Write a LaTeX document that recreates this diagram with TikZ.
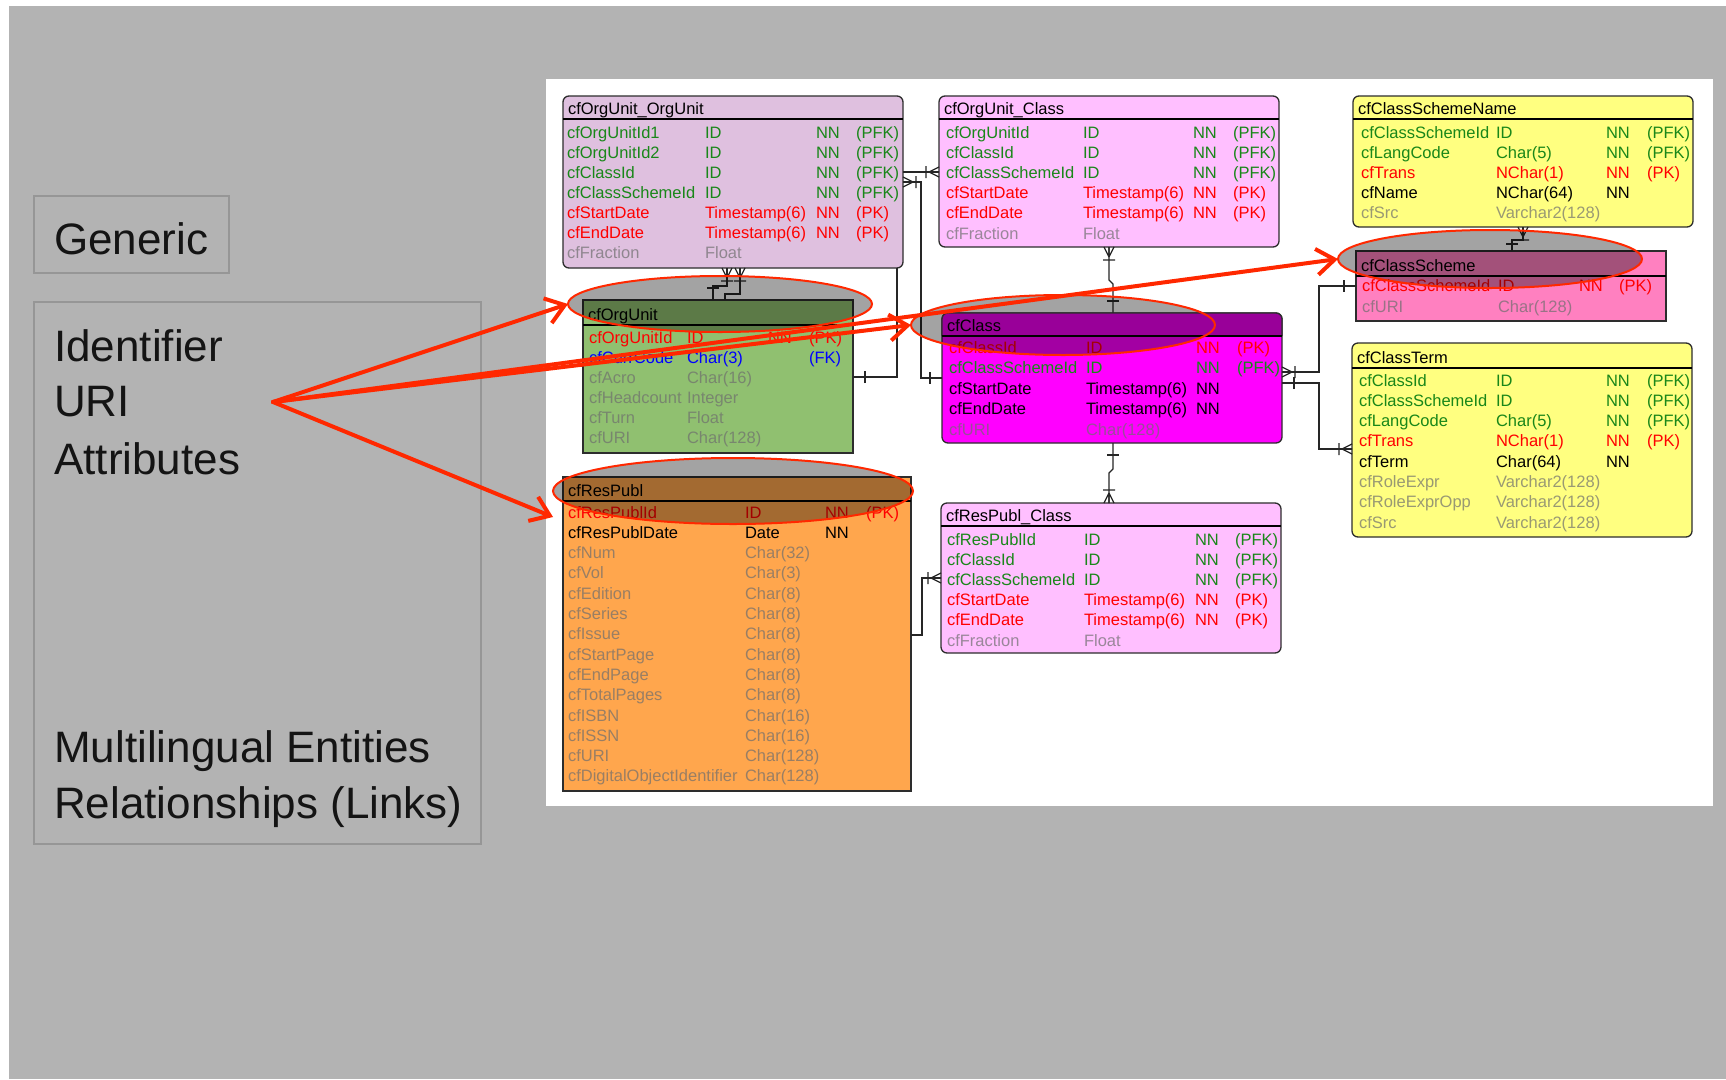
\documentclass[tikz,border=0pt]{standalone}
\usepackage{fontspec}
\setmainfont{Liberation Sans}
\usetikzlibrary{arrows.meta,shapes.geometric}

\definecolor{bgc}{RGB}{179,179,179}
\definecolor{lboxc}{RGB}{150,150,150}
\definecolor{edgec}{RGB}{45,45,45}
\definecolor{cOO}{RGB}{223,192,223}
\definecolor{cPK}{RGB}{255,191,255}
\definecolor{cYE}{RGB}{255,255,128}
\definecolor{cCS}{RGB}{255,128,192}
\definecolor{cOU}{RGB}{144,192,112}
\definecolor{cCL}{RGB}{255,0,255}
\definecolor{cCLh}{RGB}{153,0,153}
\definecolor{cRP}{RGB}{255,166,77}
\definecolor{tgrn}{RGB}{25,135,25}
\definecolor{tred}{RGB}{255,0,0}
\definecolor{tgry}{RGB}{110,110,110}
\definecolor{tblu}{RGB}{0,0,255}
\definecolor{ared}{RGB}{255,40,0}

\newcommand\cellfont{\fontsize{16.5}{18}\selectfont}
\newcommand\bigfont{\fontsize{44}{50}\selectfont}

\tikzset{
  cell/.style={anchor=base west, inner sep=0pt, outer sep=0pt, font=\cellfont, text=black},
  kgrn/.style={text=tgrn}, kred/.style={text=tred}, kblu/.style={text=tblu},
  kblk/.style={text=black}, kgry/.style={text=tgry, text opacity=0.7},
  hdrline/.style={draw=black, line width=1.6pt},
  conn/.style={draw=black!85, line width=1.2pt},
  ellfill/.style={ellipse, fill=black, fill opacity=0.36, draw=none, inner sep=0pt, outer sep=0pt},
  eline/.style={draw=ared, line width=2pt},
  rarrow/.style={draw=ared, line width=4pt, line cap=round, -{Straight Barb[length=18pt,width=26pt]}},
  bigtxt/.style={anchor=base west, inner sep=0pt, font=\bigfont, text=black!92},
  lbox/.style={draw=lboxc, line width=1.5pt, anchor=north west, inner sep=0pt, outer sep=0pt},
  tblbox/.style={draw=edgec, line width=1.3pt, inner sep=0pt, outer sep=0pt, anchor=north west},
  tbledge/.style={draw=edgec, line width=1.3pt},
  crow/.pic={\draw[conn] (-10,0) -- (0,-5) (-10,0) -- (0,0) (-10,0) -- (0,5) (-13,-6) -- (-13,6);},
  onebar/.pic={\draw[conn] (-12,-6) -- (-12,6);},
  onebars/.pic={\draw[conn] (-7,-6) -- (-7,6);},
}

\newcommand\ertable[6]{%
  \pgfmathsetmacro\erw{#4-#2}%
  \pgfmathsetmacro\erh{#5-#3}%
  \node[tblbox,#6,minimum width=\erw pt,minimum height=\erh pt] (#1) at (#2,#3) {};}
\newcommand\erhead[5]{%
  \draw[hdrline] (#2,#4) -- (#3,#4);
  \node[cell] (#1-title) at (#2+5,#4-5) {#5};}
\newcommand\errows[8]{%
  \foreach \xc/\xa/\xb/\xn/\xk [count=\xi from 0] in {#8} {%
    \pgfmathsetmacro\yy{#6+\xi*#7}%
    \node[cell,\xc] (#1-\xi-a) at (#2,\yy) {\xa};
    \node[cell,\xc] (#1-\xi-b) at (#3,\yy) {\xb};
    \node[cell,\xc] (#1-\xi-c) at (#4,\yy) {\xn};
    \node[cell,\xc] (#1-\xi-d) at (#5,\yy) {\xk};
  }}

\begin{document}
\begin{tikzpicture}[x=1pt,y=-1pt]
\useasboundingbox (0,0) rectangle (1726,1079);
\fill[white] (0,0) rectangle (1726,1079);
\fill[bgc] (9,6) rectangle (1726,1079);
\fill[white] (546,79) rectangle (1713,806);

% left panel
\node[lbox, minimum width=195pt, minimum height=77pt] (genbox) at (34,196) {};
\node[lbox, minimum width=447pt, minimum height=542pt] (attbox) at (34,302) {};
\node[bigtxt] (tgen) at (54,254) {Generic};
\node[bigtxt] (tid) at (54,361) {Identifier};
\node[bigtxt] (turi) at (54,416) {URI};
\node[bigtxt] (tatt) at (54,474) {Attributes};
\node[bigtxt] (tml) at (54,762) {Multilingual Entities};
\node[bigtxt] (trel) at (54,818) {Relationships (Links)};

% tables
\ertable{oo}{563}{96}{903}{268}{fill=cOO,rounded corners=6pt}
\erhead{oo}{563}{903}{119}{cfOrgUnit\_OrgUnit}
\errows{oo}{567}{705}{816}{856}{138}{20.1}{kgrn/cfOrgUnitId1/ID/NN/(PFK), kgrn/cfOrgUnitId2/ID/NN/(PFK), kgrn/cfClassId/ID/NN/(PFK), kgrn/cfClassSchemeId/ID/NN/(PFK), kred/cfStartDate/Timestamp(6)/NN/(PK), kred/cfEndDate/Timestamp(6)/NN/(PK), kgry/cfFraction/Float/{}/{}}

\ertable{oc}{939}{96}{1279}{247}{fill=cPK,rounded corners=6pt}
\erhead{oc}{939}{1279}{119}{cfOrgUnit\_Class}
\errows{oc}{946}{1083}{1193}{1233}{138}{20.2}{kgrn/cfOrgUnitId/ID/NN/(PFK), kgrn/cfClassId/ID/NN/(PFK), kgrn/cfClassSchemeId/ID/NN/(PFK), kred/cfStartDate/Timestamp(6)/NN/(PK), kred/cfEndDate/Timestamp(6)/NN/(PK), kgry/cfFraction/Float/{}/{}}

\ertable{csn}{1353}{96}{1693}{227}{fill=cYE,rounded corners=6pt}
\erhead{csn}{1353}{1693}{119}{cfClassSchemeName}
\errows{csn}{1361}{1496}{1606}{1647}{138}{20.2}{kgrn/cfClassSchemeId/ID/NN/(PFK), kgrn/cfLangCode/Char(5)/NN/(PFK), kred/cfTrans/NChar(1)/NN/(PK), kblk/cfName/NChar(64)/NN/{}, kgry/cfSrc/Varchar2(128)/{}/{}}

\ertable{cs}{1356}{251}{1666}{321}{fill=cCS}
\erhead{cs}{1356}{1666}{276}{cfClassScheme}
\errows{cs}{1362}{1498}{1579}{1619}{291}{21}{kred/cfClassSchemeId/ID/NN/(PK), kgry/cfURI/Char(128)/{}/{}}

\ertable{ct}{1352}{343}{1692}{537}{fill=cYE,rounded corners=6pt}
\erhead{ct}{1352}{1692}{368}{cfClassTerm}
\errows{ct}{1359}{1496}{1606}{1647}{386}{20.3}{kgrn/cfClassId/ID/NN/(PFK), kgrn/cfClassSchemeId/ID/NN/(PFK), kgrn/cfLangCode/Char(5)/NN/(PFK), kred/cfTrans/NChar(1)/NN/(PK), kblk/cfTerm/Char(64)/NN/{}, kgry/cfRoleExpr/Varchar2(128)/{}/{}, kgry/cfRoleExprOpp/Varchar2(128)/{}/{}, kgry/cfSrc/Varchar2(128)/{}/{}}

\ertable{ou}{583}{300}{853}{453}{fill=cOU}
\erhead{ou}{583}{853}{325}{cfOrgUnit}
\errows{ou}{589}{687}{768}{809}{343}{20}{kred/cfOrgUnitId/ID/NN/(PK), kblu/cfCurrCode/Char(3)/{}/(FK), kgry/cfAcro/Char(16)/{}/{}, kgry/cfHeadcount/Integer/{}/{}, kgry/cfTurn/Float/{}/{}, kgry/cfURI/Char(128)/{}/{}}

\ertable{cl}{942}{313}{1282}{443}{fill=cCL,rounded corners=6pt}
\errows{cl}{949}{1086}{1196}{1237}{353}{20.5}{kred/cfClassId/ID/NN/(PK), kgrn/cfClassSchemeId/ID/NN/(PFK), kblk/cfStartDate/Timestamp(6)/NN/{}, kblk/cfEndDate/Timestamp(6)/NN/{}, kgry/cfURI/Char(128)/{}/{}}

\ertable{rp}{563}{477}{911}{791}{fill=cRP}
\erhead{rp}{563}{911}{501}{cfResPubl}
\errows{rp}{568}{745}{825}{866}{518}{20.3}{kred/cfResPublId/ID/NN/(PK), kblk/cfResPublDate/Date/NN/{}, kgry/cfNum/Char(32)/{}/{}, kgry/cfVol/Char(3)/{}/{}, kgry/cfEdition/Char(8)/{}/{}, kgry/cfSeries/Char(8)/{}/{}, kgry/cfIssue/Char(8)/{}/{}, kgry/cfStartPage/Char(8)/{}/{}, kgry/cfEndPage/Char(8)/{}/{}, kgry/cfTotalPages/Char(8)/{}/{}, kgry/cfISBN/Char(16)/{}/{}, kgry/cfISSN/Char(16)/{}/{}, kgry/cfURI/Char(128)/{}/{}, kgry/cfDigitalObjectIdentifier/Char(128)/{}/{}}

\ertable{rc}{941}{503}{1281}{653}{fill=cPK,rounded corners=6pt}
\erhead{rc}{941}{1281}{526}{cfResPubl\_Class}
\errows{rc}{947}{1084}{1195}{1235}{545}{20.2}{kgrn/cfResPublId/ID/NN/(PFK), kgrn/cfClassId/ID/NN/(PFK), kgrn/cfClassSchemeId/ID/NN/(PFK), kred/cfStartDate/Timestamp(6)/NN/(PK), kred/cfEndDate/Timestamp(6)/NN/(PK), kgry/cfFraction/Float/{}/{}}

% connectors
\draw[conn] (ou.east |- 0,377) -- (897,377) -- (oo.south -| 897,0);
\draw[conn] (oo.east |- 0,172) -- (oc.west |- 0,172);
\draw[conn] (cl.west |- 0,378) -- (921,378) -- (921,182) -- (oo.east |- 0,182);
\draw[conn] (ou.north -| 713,0) -- (713,286) -- (727,286) -- (oo.south -| 727,0);
\draw[conn] (ou.north -| 725,0) -- (725,294) -- (740,294) -- (oo.south -| 740,0);
\draw[conn] (oc.south -| 1109,0) -- (1109,280) -- (1113,284) -- (cl.north -| 1113,0);
\draw[conn] (cl.south -| 1113,0) -- (1113,469) -- (1109,473) -- (rc.north -| 1109,0);
\draw[conn] (rp.east |- 0,635) -- (922,635) -- (922,578) -- (rc.west |- 0,578);
\draw[conn] (cl.east |- 0,372) -- (1319,372) -- (1319,286) -- (cs.west |- 0,286);
\draw[conn] (cl.east |- 0,383) -- (1319,383) -- (1319,449) -- (ct.west |- 0,449);
\draw[conn] (cs.north -| 1512,0) -- (1512,240) -- (1523,240) -- (csn.south -| 1523,0);

\path (oc.west |- 0,172) pic{crow};
\path (ou.east |- 0,377) pic[rotate=180]{onebar};
\path (oo.east |- 0,182) pic[rotate=180]{crow};
\path (cl.west |- 0,378) pic{onebar};
\path (oo.south -| 727,0) pic[rotate=90]{crow};
\path (oo.south -| 740,0) pic[rotate=90]{crow};
\path (ou.north -| 713,0) pic[rotate=-90]{onebar};
\path (oc.south -| 1109,0) pic[rotate=90]{crow};
\path (cl.north -| 1113,0) pic[rotate=-90]{onebar};
\path (cl.south -| 1113,0) pic[rotate=90]{onebar};
\path (rc.north -| 1109,0) pic[rotate=-90]{crow};
\path (rc.west |- 0,578) pic{crow};
\path (cl.east |- 0,372) pic[rotate=180]{crow};
\path (cs.west |- 0,286) pic{onebar};
\path (cl.east |- 0,383) pic[rotate=180]{onebar};
\path (ct.west |- 0,449) pic{crow};
\path (csn.south -| 1523,0) pic[rotate=90]{crow};
\path (cs.north -| 1512,0) pic[rotate=-90]{onebars};

% highlight ellipses (fill)
\node[ellfill, minimum width=304pt, minimum height=56pt] (e1) at (720,304) {};
\node[ellfill, minimum width=304pt, minimum height=60pt] (e2) at (1063,325) {};
\node[ellfill, minimum width=304pt, minimum height=58pt] (e3) at (1490,259) {};
\node[ellfill, minimum width=360pt, minimum height=66pt] (e4) at (733,491) {};

% cfClass header (dark band)
\begin{scope}
\clip[rounded corners=6pt] (942,313) rectangle (1282,443);
\fill[cCLh] (942,313) rectangle (1282,336);
\end{scope}
\draw[tbledge, rounded corners=6pt] (942,336) -- (942,313) -- (1282,313) -- (1282,336);
\erhead{cl}{942}{1282}{336}{cfClass}

% ellipse outlines
\draw[eline] (e1.center) ellipse [x radius=152, y radius=28];
\draw[eline] (e2.center) ellipse [x radius=152, y radius=30];
\draw[eline] (e3.center) ellipse [x radius=152, y radius=29];
\draw[eline] (e4.center) ellipse [x radius=180, y radius=33];

% arrows
\coordinate (o) at (273,402);
\coordinate (t4) at (553,517);
\draw[rarrow] (o) -- (e1.west);
\draw[rarrow] (o) -- (e2.west);
\draw[rarrow] (o) -- (e3.west);
\draw[rarrow] (o) -- (t4);
\end{tikzpicture}
\end{document}
